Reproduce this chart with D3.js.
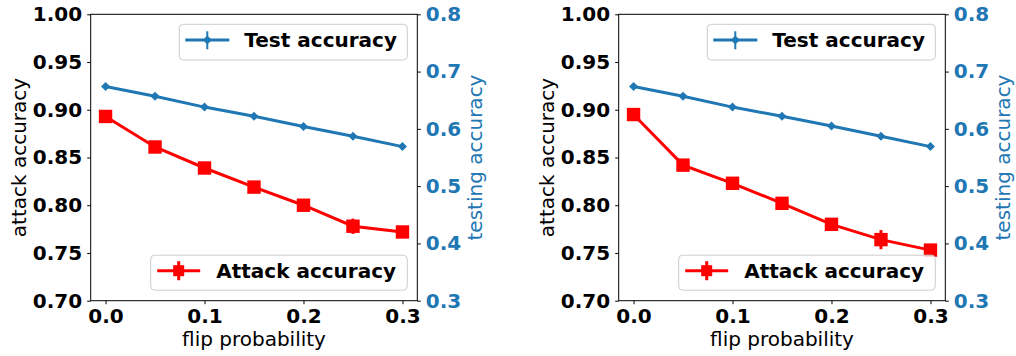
<!DOCTYPE html>
<html>
<head>
<meta charset="utf-8">
<script src="https://cdn.jsdelivr.net/npm/d3@7"></script>
<style>
  body { margin: 0; background: #fff; }
  svg { display: block; }
</style>
</head>
<body>
<div id="chart"></div>
<script>
// flip probability on the x axis
const flipProb = [0, 0.05, 0.1, 0.15, 0.2, 0.25, 0.3];

// left panel
const attackLeft = [0.893, 0.861, 0.839, 0.819, 0.800, 0.778, 0.772];
const attackLeftErr = [0.003, 0.003, 0.004, 0.003, 0.004, 0.008, 0.003];
const testLeft = [0.674, 0.657, 0.638, 0.622, 0.604, 0.587, 0.569];
const testLeftErr = [0.002, 0.002, 0.002, 0.002, 0.002, 0.002, 0.002];

// right panel
const attackRight = [0.895, 0.842, 0.823, 0.802, 0.780, 0.764, 0.753];
const attackRightErr = [0.003, 0.004, 0.004, 0.004, 0.004, 0.010, 0.005];
const testRight = [0.674, 0.657, 0.638, 0.622, 0.605, 0.587, 0.569];
const testRightErr = [0.002, 0.002, 0.002, 0.002, 0.002, 0.002, 0.002];

const xTicks = [0, 0.1, 0.2, 0.3];
const leftTicks = [0.70, 0.75, 0.80, 0.85, 0.90, 0.95, 1.00];
const rightTicks = [0.3, 0.4, 0.5, 0.6, 0.7, 0.8];

const RED = "#ff0000", BLUE = "#1f77b4";
const FONT = "DejaVu Sans, sans-serif";

var svg = d3.select("#chart").append("svg")
  .attr("width", 1016)
  .attr("height", 356)
  .attr("font-family", FONT);

var panels = [
  { left: 90.7, attack: attackLeft, attackErr: attackLeftErr, test: testLeft, testErr: testLeftErr },
  { left: 618.7, attack: attackRight, attackErr: attackRightErr, test: testRight, testErr: testRightErr }
];

var plotW = 326.6, plotTop = 14.3, plotH = 286.4;

panels.forEach(function(p) {
  var width = plotW, height = plotH;
  var g = svg.append("g").attr("transform", "translate(" + p.left + "," + plotTop + ")");

  var x = d3.scaleLinear().domain([-0.015, 0.315]).range([0, width]);
  var yL = d3.scaleLinear().domain([0.7, 1.0]).range([height, 0]);
  var yR = d3.scaleLinear().domain([0.3, 0.8]).range([height, 0]);

  // axes
  var xAxis = d3.axisBottom(x).tickValues(xTicks).tickFormat(d3.format(".1f")).tickSize(3.5).tickPadding(5);
  var yAxisL = d3.axisLeft(yL).tickValues(leftTicks).tickFormat(d3.format(".2f")).tickSize(3.5).tickPadding(5);
  var yAxisR = d3.axisRight(yR).tickValues(rightTicks).tickFormat(d3.format(".1f")).tickSize(3.5).tickPadding(5);

  function styleAxis(a, color) {
    a.attr("font-family", FONT).attr("font-size", 20).attr("font-weight", "bold");
    a.select(".domain").remove();
    a.selectAll("text").attr("fill", color);
    a.selectAll("line").attr("stroke", "#000").attr("stroke-width", 1);
  }

  g.append("g").attr("transform", "translate(0," + height + ")").call(xAxis).call(styleAxis, "#000");
  g.append("g").call(yAxisL).call(styleAxis, "#000");
  g.append("g").attr("transform", "translate(" + width + ",0)").call(yAxisR).call(styleAxis, BLUE);

  // frame
  g.append("rect").attr("width", width).attr("height", height)
    .attr("fill", "none").attr("stroke", "#000").attr("stroke-width", 1);

  // axis titles
  g.append("text")
    .attr("transform", "translate(" + (-72.2) + "," + height / 2 + ") rotate(-90)")
    .attr("text-anchor", "middle").attr("dominant-baseline", "central")
    .attr("font-family", FONT).attr("font-size", 20).text("attack accuracy");
  g.append("text")
    .attr("transform", "translate(" + (width + 57.7) + "," + height / 2 + ") rotate(-90)")
    .attr("text-anchor", "middle").attr("dominant-baseline", "central")
    .attr("fill", BLUE).attr("font-family", FONT).attr("font-size", 20).text("testing accuracy");
  g.append("text")
    .attr("x", width / 2).attr("y", height + 45.5)
    .attr("text-anchor", "middle")
    .attr("font-family", FONT).attr("font-size", 20).text("flip probability");

  // attack accuracy series
  var attackPts = flipProb.map((f, i) => ({ x: f, y: p.attack[i], e: p.attackErr[i] }));
  g.append("path").datum(attackPts)
    .attr("fill", "none").attr("stroke", RED).attr("stroke-width", 3)
    .attr("d", d3.line().x(d => x(d.x)).y(d => yL(d.y)));
  g.selectAll(".aerr").data(attackPts).enter().append("line")
    .attr("x1", d => x(d.x)).attr("x2", d => x(d.x))
    .attr("y1", d => yL(d.y - d.e)).attr("y2", d => yL(d.y + d.e))
    .attr("stroke", RED).attr("stroke-width", 3);
  g.selectAll(".asq").data(attackPts).enter().append("rect")
    .attr("x", d => x(d.x) - 6.7).attr("y", d => yL(d.y) - 6.7)
    .attr("width", 13.4).attr("height", 13.4).attr("fill", RED);

  // attack legend (lower right)
  var lg1 = g.append("g").attr("transform", "translate(" + (width - 10 - 256.6) + "," + (height - 10.5 - 35) + ")");
  lg1.append("rect").attr("width", 256.6).attr("height", 35).attr("rx", 4)
    .attr("fill", "#fff").attr("fill-opacity", 0.8).attr("stroke", "#cccccc").attr("stroke-width", 1);
  lg1.append("line").attr("x1", 6.5).attr("x2", 49.5).attr("y1", 15.5).attr("y2", 15.5)
    .attr("stroke", RED).attr("stroke-width", 3);
  lg1.append("line").attr("x1", 28).attr("x2", 28).attr("y1", 6).attr("y2", 25)
    .attr("stroke", RED).attr("stroke-width", 3);
  lg1.append("rect").attr("x", 22.5).attr("y", 10).attr("width", 11).attr("height", 11).attr("fill", RED);
  lg1.append("text").attr("x", 65.5).attr("y", 15.5).attr("dominant-baseline", "central")
    .attr("font-family", FONT).attr("font-size", 20).attr("font-weight", "bold").text("Attack accuracy");

  // test accuracy series (twin axis, drawn on top)
  var testPts = flipProb.map((f, i) => ({ x: f, y: p.test[i], e: p.testErr[i] }));
  g.append("path").datum(testPts)
    .attr("fill", "none").attr("stroke", BLUE).attr("stroke-width", 3)
    .attr("d", d3.line().x(d => x(d.x)).y(d => yR(d.y)));
  g.selectAll(".terr").data(testPts).enter().append("line")
    .attr("x1", d => x(d.x)).attr("x2", d => x(d.x))
    .attr("y1", d => yR(d.y - d.e)).attr("y2", d => yR(d.y + d.e))
    .attr("stroke", BLUE).attr("stroke-width", 2);
  g.selectAll(".tdia").data(testPts).enter().append("path")
    .attr("transform", d => "translate(" + x(d.x) + "," + yR(d.y) + ")")
    .attr("d", "M0,-4.5L4.5,0L0,4.5L-4.5,0Z").attr("fill", BLUE);

  // test legend (upper right)
  var lg2 = g.append("g").attr("transform", "translate(" + (width - 10 - 228) + "," + 10 + ")");
  lg2.append("rect").attr("width", 228).attr("height", 35.7).attr("rx", 4)
    .attr("fill", "#fff").attr("fill-opacity", 0.8).attr("stroke", "#cccccc").attr("stroke-width", 1);
  lg2.append("line").attr("x1", 6).attr("x2", 50).attr("y1", 15.7).attr("y2", 15.7)
    .attr("stroke", BLUE).attr("stroke-width", 3);
  lg2.append("line").attr("x1", 28).attr("x2", 28).attr("y1", 7).attr("y2", 25)
    .attr("stroke", BLUE).attr("stroke-width", 2);
  lg2.append("path").attr("transform", "translate(28,15.7)")
    .attr("d", "M0,-4.5L4.5,0L0,4.5L-4.5,0Z").attr("fill", BLUE);
  lg2.append("text").attr("x", 65).attr("y", 15.7).attr("dominant-baseline", "central")
    .attr("font-family", FONT).attr("font-size", 20).attr("font-weight", "bold").text("Test accuracy");
});
</script>
</body>
</html>
